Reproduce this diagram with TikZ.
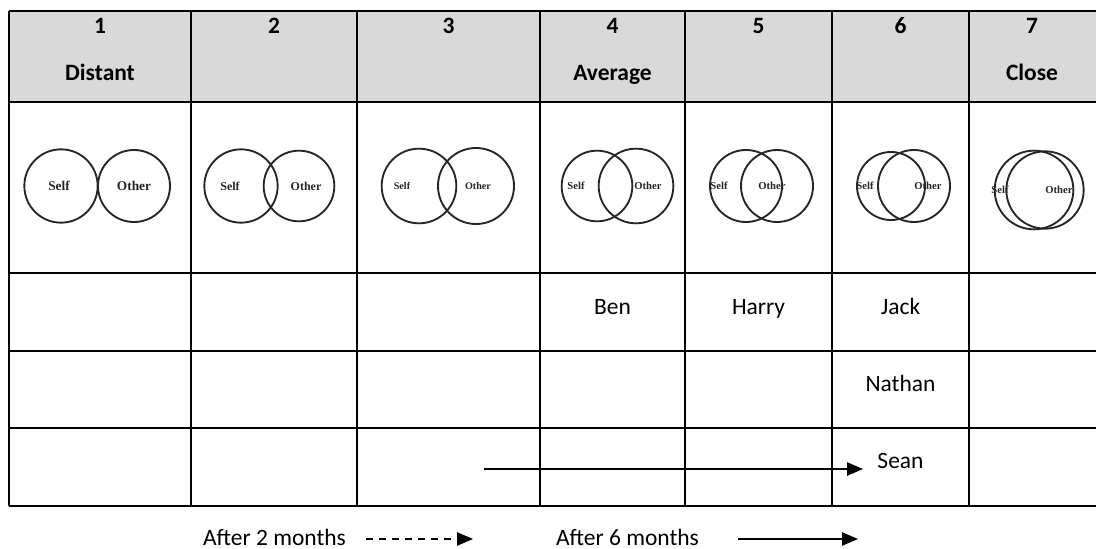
\documentclass[tikz,border=0pt]{standalone}
\usepackage{fontspec}
\setmainfont{Carlito}
\newfontfamily\vennfont{Liberation Serif}
\usetikzlibrary{arrows.meta}
\definecolor{headgray}{HTML}{D9D9D9}
\definecolor{venngray}{HTML}{262626}
\begin{document}
\begin{tikzpicture}[x=0.75pt,y=-0.75pt,
  gridline/.style={line width=1.5pt,black},
  headtxt/.style={anchor=base,inner sep=0pt,font=\fontsize{17.6}{21}\selectfont\bfseries},
  nametxt/.style={anchor=base,inner sep=0pt,font=\fontsize{17.6}{21}\selectfont},
  vc/.style={circle,draw=venngray,line width=1.4pt,inner sep=0pt},
  vl/.style={inner sep=0pt,text=venngray,font=\vennfont\fontsize{8}{9}\selectfont\bfseries},
  vlone/.style={vl,font=\vennfont\fontsize{10}{11}\selectfont\bfseries},
  vltwo/.style={vl,font=\vennfont\fontsize{9}{10}\selectfont\bfseries},
  vlthree/.style={vl,font=\vennfont\fontsize{7.6}{9}\selectfont\bfseries},
  arr/.style={line width=1.1pt,-{Triangle[length=12pt,width=10pt]}},
]
\useasboundingbox (0,0) rectangle (1096,549);
% header fill
\fill[headgray] (9,11) rectangle (1096,102);
% grid
\foreach \y in {11,102,273,351,428,506} \draw[gridline] (9,\y) -- (1096,\y);
\foreach \x in {9,191,357,540,685,832,969} \draw[gridline] (\x,11) -- (\x,506);
% header texts
\node[headtxt] (h1) at (100,34) {1};
\node[headtxt] (h2) at (274,34) {2};
\node[headtxt] (h3) at (448.5,34) {3};
\node[headtxt] (h4) at (612.5,34) {4};
\node[headtxt] (h5) at (758.5,34) {5};
\node[headtxt] (h6) at (900.5,34) {6};
\node[headtxt] (h7) at (1032,34) {7};
\node[headtxt] (distant) at (100,81) {Distant};
\node[headtxt] (average) at (612.5,81) {Average};
\node[headtxt] (close) at (1032,81) {Close};
% venn circles
\node[vc,minimum size=55pt] (c1a) at (61,186) {};
\node[vc,minimum size=54pt] (c1b) at (134,186) {};
\node[vc,minimum size=55pt] (c2a) at (241,186) {};
\node[vc,minimum size=53pt] (c2b) at (299,186) {};
\node[vc,minimum size=56pt] (c3a) at (419,186) {};
\node[vc,minimum size=57pt] (c3b) at (476,186) {};
\node[vc,minimum size=53pt] (c4a) at (597,186) {};
\node[vc,minimum size=56pt] (c4b) at (636,186) {};
\node[vc,minimum size=54pt] (c5a) at (746,186) {};
\node[vc,minimum size=54pt] (c5b) at (777,186) {};
\node[vc,minimum size=51pt] (c6a) at (891,186) {};
\node[vc,minimum size=54pt] (c6b) at (914,186) {};
\node[vc,minimum size=59pt] (c7a) at (1034,190) {};
\node[vc,minimum size=58pt] (c7b) at (1045,190) {};
% venn labels
\node[vlone] (s1) at (59,186) {Self};
\node[vlone] (o1) at (134,186) {Other};
\node[vltwo] (s2) at (230,186) {Self};
\node[vltwo] (o2) at (306,186) {Other};
\node[vlthree] (s3) at (402,186) {Self};
\node[vlthree] (o3) at (478,186) {Other};
\node[vl] (s4) at (576,186) {Self};
\node[vl] (o4) at (648,186) {Other};
\node[vl] (s5) at (719,186) {Self};
\node[vl] (o5) at (772,186) {Other};
\node[vl] (s6) at (865,186) {Self};
\node[vl] (o6) at (928,186) {Other};
\node[vl] (s7) at (1000,190) {Self};
\node[vl] (o7) at (1059,190) {Other};
% names
\node[nametxt] (ben) at (612.5,314) {Ben};
\node[nametxt] (harry) at (758.5,314) {Harry};
\node[nametxt] (jack) at (900.5,314) {Jack};
\node[nametxt] (nathan) at (900.5,391.5) {Nathan};
\node[nametxt] (sean) at (900.5,468) {Sean};
% arrow in Sean row
\coordinate (seanstart) at (484,469);
\coordinate (seanend) at (863,469);
\draw[arr] (seanstart) -- (seanend);
% legend
\node[nametxt] (after2) at (274.5,545) {After 2 months};
\node[nametxt] (after6) at (627.5,545) {After 6 months};
\coordinate (d2s) at (366,539);
\coordinate (d2e) at (473,539);
\coordinate (d6s) at (738,539);
\coordinate (d6e) at (858,539);
\draw[arr,dash pattern=on 5.25pt off 4.5pt] (d2s) -- (d2e);
\draw[arr] (d6s) -- (d6e);
\end{tikzpicture}
\end{document}
